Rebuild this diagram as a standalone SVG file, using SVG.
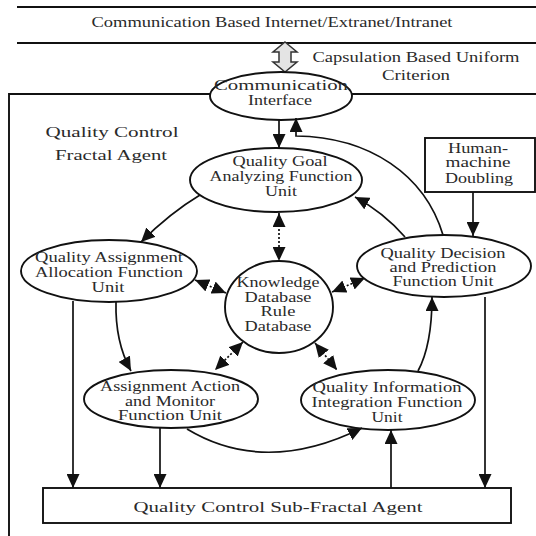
<svg xmlns="http://www.w3.org/2000/svg" width="536" height="536" viewBox="0 0 536 536">
<style>
text{font-family:"Liberation Serif","Times New Roman",serif;fill:#2a2a2a;text-anchor:middle;font-size:14px}
.n{fill:#fff;stroke:#111;stroke-width:1.9}
.c{fill:none;stroke:#111;stroke-width:1.7}
.d{fill:none;stroke:#111;stroke-width:1.7;stroke-dasharray:2 2}
.r{fill:none;stroke:#111;stroke-width:1.9}
</style>
<defs>
<marker id="ah" markerUnits="userSpaceOnUse" markerWidth="15" markerHeight="13" refX="14" refY="6.5" orient="auto">
<path d="M0,0 L14,6.5 L0,13 Z" fill="#111"/>
</marker>
<marker id="as" markerUnits="userSpaceOnUse" markerWidth="15" markerHeight="13" refX="1" refY="6.5" orient="auto">
<path d="M15,0 L1,6.5 L15,13 Z" fill="#111"/>
</marker>
</defs>
<g id="frame">
<line class="r" x1="17" y1="7" x2="536" y2="7"/>
<line class="r" x1="17" y1="43" x2="536" y2="43"/>
<text x="272" y="27" font-size="14" textLength="361" lengthAdjust="spacingAndGlyphs">Communication Based Internet/Extranet/Intranet</text>
<polyline class="r" points="210,94 9,94 9,536"/>
<line class="r" x1="352" y1="94" x2="536" y2="94"/>
<text x="416" y="62" font-size="16" textLength="207" lengthAdjust="spacingAndGlyphs">Capsulation Based Uniform</text>
<text x="416" y="80" font-size="16" textLength="68" lengthAdjust="spacingAndGlyphs">Criterion</text>
<text x="112" y="137" font-size="17" textLength="133" lengthAdjust="spacingAndGlyphs">Quality Control</text>
<text x="111" y="160" font-size="17" textLength="112" lengthAdjust="spacingAndGlyphs">Fractal Agent</text>
</g>
<g id="capsulation-arrow">
<polygon points="285,42 297,52 291,52 291,62 297,62 285,72 273,62 279,62 279,52 273,52" fill="#e4e4e4" stroke="#333" stroke-width="1.5"/>
</g>
<g id="comm-interface">
<ellipse class="n" cx="281" cy="96" rx="71" ry="24"/>
<text x="281" y="90" textLength="134" lengthAdjust="spacingAndGlyphs">Communication</text>
<text x="280" y="105" textLength="64" lengthAdjust="spacingAndGlyphs">Interface</text>
</g>
<g id="goal">
<ellipse class="n" cx="276" cy="180" rx="86" ry="32"/>
<text x="280" y="166" textLength="95" lengthAdjust="spacingAndGlyphs">Quality Goal</text>
<text x="281" y="181" textLength="143" lengthAdjust="spacingAndGlyphs">Analyzing Function</text>
<text x="281" y="196" textLength="32" lengthAdjust="spacingAndGlyphs">Unit</text>
</g>
<g id="allocation">
<ellipse class="n" cx="109" cy="271" rx="88" ry="31"/>
<text x="109" y="262" textLength="148" lengthAdjust="spacingAndGlyphs">Quality Assignment</text>
<text x="109" y="277" textLength="148" lengthAdjust="spacingAndGlyphs">Allocation Function</text>
<text x="108" y="292" textLength="33" lengthAdjust="spacingAndGlyphs">Unit</text>
</g>
<g id="knowledge">
<ellipse class="n" cx="279" cy="307" rx="54" ry="46"/>
<text x="278" y="287" textLength="83" lengthAdjust="spacingAndGlyphs">Knowledge</text>
<text x="278" y="302" textLength="67" lengthAdjust="spacingAndGlyphs">Database</text>
<text x="278" y="316" textLength="35" lengthAdjust="spacingAndGlyphs">Rule</text>
<text x="278" y="331" textLength="67" lengthAdjust="spacingAndGlyphs">Database</text>
</g>
<g id="decision">
<ellipse class="n" cx="444" cy="266" rx="87" ry="31"/>
<text x="443" y="258" textLength="125" lengthAdjust="spacingAndGlyphs">Quality Decision</text>
<text x="443" y="272" textLength="107" lengthAdjust="spacingAndGlyphs">and Prediction</text>
<text x="443" y="286" textLength="101" lengthAdjust="spacingAndGlyphs">Function Unit</text>
</g>
<g id="human-machine">
<rect class="n" x="425" y="138" width="110" height="54"/>
<text x="478" y="153" textLength="60" lengthAdjust="spacingAndGlyphs">Human-</text>
<text x="478" y="167" textLength="65" lengthAdjust="spacingAndGlyphs">machine</text>
<text x="479" y="183" textLength="68" lengthAdjust="spacingAndGlyphs">Doubling</text>
</g>
<g id="action">
<ellipse class="n" cx="171" cy="399" rx="87" ry="29"/>
<text x="170" y="391" textLength="140" lengthAdjust="spacingAndGlyphs">Assignment Action</text>
<text x="170" y="406" textLength="90" lengthAdjust="spacingAndGlyphs">and Monitor</text>
<text x="170" y="420" textLength="104" lengthAdjust="spacingAndGlyphs">Function Unit</text>
</g>
<g id="information">
<ellipse class="n" cx="388" cy="400" rx="87" ry="30"/>
<text x="387" y="392" textLength="149" lengthAdjust="spacingAndGlyphs">Quality Information</text>
<text x="387" y="407" textLength="151" lengthAdjust="spacingAndGlyphs">Integration Function</text>
<text x="387" y="422" textLength="31" lengthAdjust="spacingAndGlyphs">Unit</text>
</g>
<g id="sub-fractal">
<rect class="n" x="43" y="488" width="468" height="35"/>
<text x="278" y="512" font-size="17" textLength="289" lengthAdjust="spacingAndGlyphs">Quality Control Sub-Fractal Agent</text>
</g>
<g id="connectors">
<line class="c" x1="279" y1="120" x2="279" y2="148" marker-end="url(#ah)"/>
<path class="c" d="M443,235 C425,175 370,137 296,136 L296,118" marker-end="url(#ah)"/>
<path class="c" d="M200,195 Q170,213 141,242" marker-end="url(#ah)"/>
<path class="c" d="M116,302 Q115,342 131,371" marker-end="url(#ah)"/>
<path class="c" d="M187,429 Q265,476 362,428" marker-end="url(#ah)"/>
<path class="c" d="M418,371 Q432,345 432,297" marker-end="url(#ah)"/>
<path class="c" d="M405,237 Q383,212 355,197" marker-end="url(#ah)"/>
<line class="c" x1="473" y1="192" x2="473" y2="236" marker-end="url(#ah)"/>
<line class="c" x1="73" y1="301" x2="73" y2="488" marker-end="url(#ah)"/>
<line class="c" x1="160" y1="428" x2="160" y2="488" marker-end="url(#ah)"/>
<line class="c" x1="391" y1="488" x2="391" y2="430" marker-end="url(#ah)"/>
<line class="c" x1="485" y1="297" x2="485" y2="488" marker-end="url(#ah)"/>
<line class="d" x1="279" y1="213" x2="279" y2="261" marker-start="url(#as)" marker-end="url(#ah)"/>
<line class="d" x1="195" y1="280" x2="226" y2="293" marker-start="url(#as)" marker-end="url(#ah)"/>
<line class="d" x1="332" y1="292" x2="365" y2="278" marker-start="url(#as)" marker-end="url(#ah)"/>
<line class="d" x1="243" y1="342" x2="215" y2="370" marker-start="url(#as)" marker-end="url(#ah)"/>
<line class="d" x1="315" y1="343" x2="337" y2="370" marker-start="url(#as)" marker-end="url(#ah)"/>
</g>
</svg>
